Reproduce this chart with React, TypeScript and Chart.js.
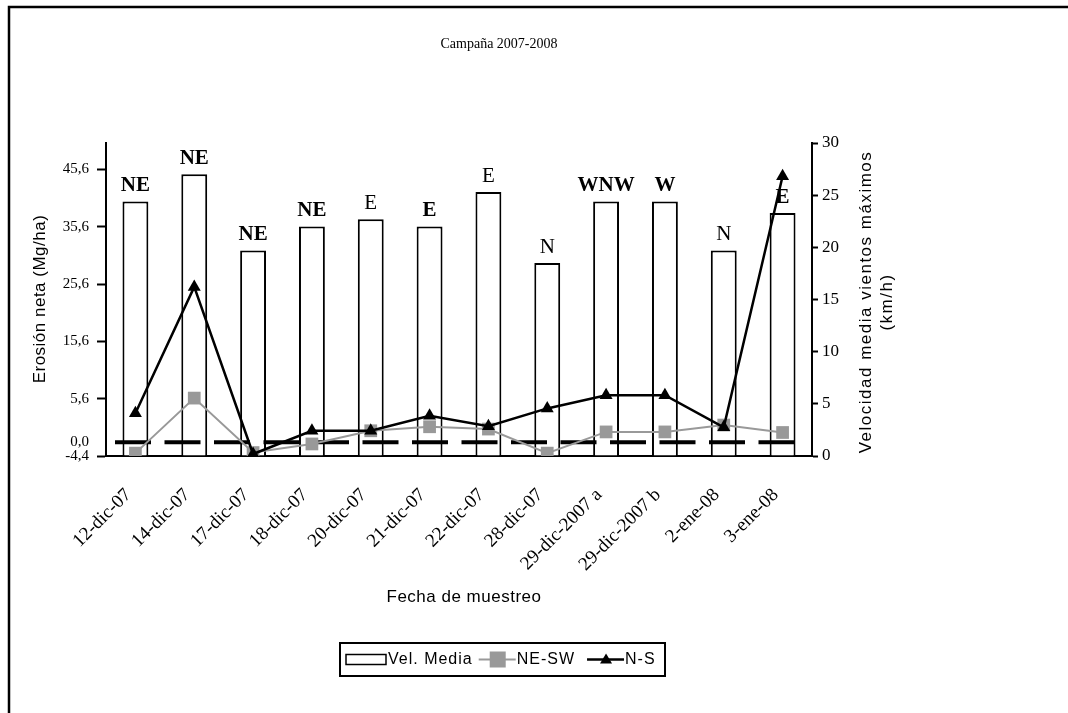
import React, { useEffect, useRef } from "react";
import { Chart, registerables } from "chart.js";

Chart.register(...registerables);

// ---------- data ----------
const categories = [
  "12-dic-07", "14-dic-07", "17-dic-07", "18-dic-07", "20-dic-07", "21-dic-07",
  "22-dic-07", "28-dic-07", "29-dic-2007 a", "29-dic-2007 b", "2-ene-08", "3-ene-08",
];
// Vel. Media (km/h, right axis)
const velMedia = [24.4, 27.0, 19.7, 22.0, 22.7, 22.0, 25.3, 18.5, 24.4, 24.4, 19.7, 23.3];
// NE-SW (Mg/ha, left axis)
const neSw = [-3.9, 5.7, -3.8, -2.3, 0.0, 0.7, 0.3, -3.9, -0.2, -0.2, 1.0, -0.3];
// N-S (Mg/ha, left axis)
const nS = [3.05, 25.1, -4.05, 0.0, 0.0, 2.6, 0.8, 3.9, 6.2, 6.2, 0.6, 44.4];
// wind direction labels above the bars
const windDir = ["NE", "NE", "NE", "NE", "E", "E", "E", "N", "WNW", "W", "N", "E"];
// left axis ticks
const leftTickValues = [-4.4, -2.0, 5.6, 15.6, 25.6, 35.6, 45.6];
const leftTickLabels = ["-4,4", "0,0", "5,6", "15,6", "25,6", "35,6", "45,6"];
const referenceLineValue = -2.0; // dashed reference line (labelled 0,0)
const leftMin = -4.4;
const leftMax = 50.2;
const rightMin = 0;
const rightMax = 30;
const rightStep = 5;

// ---------- styles ----------
const windDirBold = [true, true, true, true, false, true, false, false, true, true, false, true];
const SERIF = '"Liberation Serif", "Times New Roman", serif';
const SANS = '"Liberation Sans", Arial, sans-serif';
const GRAY = "#999999";

const decorPlugin = {
  id: "decor",
  afterDatasetDraw(chart: any, args: any) {
    if (args.index !== 0) return;
    const ctx = chart.ctx;
    const y = chart.scales.yL.getPixelForValue(referenceLineValue);
    const { left, right } = chart.chartArea;
    ctx.save();
    ctx.strokeStyle = "#000";
    ctx.lineWidth = 4;
    ctx.setLineDash([36, 13.5]);
    ctx.lineDashOffset = 40.5;
    ctx.beginPath();
    ctx.moveTo(left, y);
    ctx.lineTo(right - 17, y);
    ctx.stroke();
    ctx.restore();
  },
  afterDraw(chart: any) {
    const ctx = chart.ctx;
    ctx.save();
    // outer frame
    ctx.strokeStyle = "#000";
    ctx.lineWidth = 2.5;
    ctx.beginPath();
    ctx.moveTo(9, 2000);
    ctx.lineTo(9, 7);
    ctx.lineTo(2000, 7);
    ctx.stroke();

    ctx.fillStyle = "#000";
    // title
    ctx.font = `14px ${SERIF}`;
    ctx.textAlign = "center";
    ctx.textBaseline = "middle";
    ctx.fillText("Campaña 2007-2008", 499, 44);

    // x title
    ctx.font = `17px ${SANS}`;
    (ctx as any).letterSpacing = "0.5px";
    ctx.fillText("Fecha de muestreo", 464, 597);

    // left title
    ctx.save();
    ctx.translate(40, 299);
    ctx.rotate(-Math.PI / 2);
    ctx.fillText("Erosión neta (Mg/ha)", 0, 0);
    ctx.restore();

    // right title
    ctx.save();
    ctx.translate(866, 302);
    ctx.rotate(-Math.PI / 2);
    (ctx as any).letterSpacing = "1.5px";
    ctx.fillText("Velocidad media vientos máximos", 0, 0);
    ctx.fillText("(km/h)", 0, 21);
    ctx.restore();
    (ctx as any).letterSpacing = "0px";

    // wind direction labels
    const meta = chart.getDatasetMeta(0);
    ctx.textBaseline = "alphabetic";
    meta.data.forEach((el: any, i: number) => {
      ctx.font = `${windDirBold[i] ? "bold " : ""}21px ${SERIF}`;
      ctx.fillText(windDir[i], el.x, el.y - 10);
    });

    // legend
    const bx = 340, by = 643, bw = 325, bh = 33;
    ctx.lineWidth = 2;
    ctx.strokeStyle = "#000";
    ctx.strokeRect(bx, by, bw, bh);
    const cy = by + bh / 2;
    ctx.font = `16px ${SANS}`;
    (ctx as any).letterSpacing = "1px";
    ctx.textAlign = "left";
    ctx.textBaseline = "middle";
    let x = bx + 6;
    // bar symbol
    ctx.fillStyle = "#fff";
    ctx.fillRect(x, cy - 5, 40, 10);
    ctx.lineWidth = 1.5;
    ctx.strokeRect(x, cy - 5, 40, 10);
    x += 42;
    ctx.fillStyle = "#000";
    ctx.fillText("Vel. Media", x, cy);
    x += ctx.measureText("Vel. Media").width + 6;
    // NE-SW symbol
    ctx.strokeStyle = GRAY;
    ctx.lineWidth = 2;
    ctx.beginPath();
    ctx.moveTo(x, cy);
    ctx.lineTo(x + 37, cy);
    ctx.stroke();
    ctx.fillStyle = GRAY;
    ctx.fillRect(x + 19 - 8, cy - 8, 16, 16);
    x += 38;
    ctx.fillStyle = "#000";
    ctx.fillText("NE-SW", x, cy);
    x += ctx.measureText("NE-SW").width + 12;
    // N-S symbol
    ctx.strokeStyle = "#000";
    ctx.lineWidth = 2.5;
    ctx.beginPath();
    ctx.moveTo(x, cy);
    ctx.lineTo(x + 37, cy);
    ctx.stroke();
    ctx.beginPath();
    ctx.moveTo(x + 19, cy - 6);
    ctx.lineTo(x + 25, cy + 4);
    ctx.lineTo(x + 13, cy + 4);
    ctx.closePath();
    ctx.fill();
    x += 38;
    ctx.fillText("N-S", x, cy);

    ctx.restore();
  },
};

export default function App() {
  const ref = useRef<HTMLCanvasElement | null>(null);

  useEffect(() => {
    if (!ref.current) return;
    const chart = new Chart(ref.current, {
      type: "bar",
      data: {
        labels: categories,
        datasets: [
          {
            type: "bar",
            label: "Vel. Media",
            data: velMedia,
            yAxisID: "yR",
            backgroundColor: "#ffffff",
            borderColor: "#000000",
            borderWidth: 2,
            barPercentage: 0.44,
            categoryPercentage: 1,
            order: 3,
          } as any,
          {
            type: "line",
            label: "NE-SW",
            data: neSw,
            yAxisID: "yL",
            borderColor: GRAY,
            borderWidth: 2,
            pointStyle: "rect",
            pointRadius: 9,
            pointBackgroundColor: GRAY,
            pointBorderWidth: 0,
            tension: 0,
            order: 2,
          } as any,
          {
            type: "line",
            label: "N-S",
            data: nS,
            yAxisID: "yL",
            borderColor: "#000000",
            borderWidth: 2.5,
            pointStyle: "triangle",
            pointRadius: 7.5,
            pointBackgroundColor: "#000000",
            pointBorderWidth: 0,
            tension: 0,
            order: 1,
          } as any,
        ],
      },
      options: {
        responsive: false,
        animation: false,
        devicePixelRatio: 1,
        layout: { padding: { left: 0, right: 196, top: 143, bottom: 57 } },
        plugins: {
          legend: { display: false },
          tooltip: { enabled: false },
          title: { display: false },
        },
        scales: {
          x: {
            type: "category",
            offset: true,
            grid: { display: false },
            border: { display: true, color: "#000", width: 2 },
            ticks: {
              maxRotation: 45,
              minRotation: 45,
              autoSkip: false,
              color: "#000",
              padding: 20,
              labelOffset: -7,
              font: { family: SERIF, size: 19 },
            },
            afterFit: (s: any) => {
              s.height = 200;
            },
          },
          yL: {
            type: "linear",
            position: "left",
            min: leftMin,
            max: leftMax,
            afterBuildTicks: (s: any) => {
              s.ticks = leftTickValues.map((v) => ({ value: v }));
            },
            ticks: {
              autoSkip: false,
              color: "#000",
              padding: 8,
              font: { family: SERIF, size: 15 },
              callback: (_v: any, i: number) => leftTickLabels[i],
            },
            grid: {
              display: true,
              drawOnChartArea: false,
              drawTicks: true,
              tickLength: 9,
              tickWidth: 2,
              tickColor: (c: any) =>
                c.tick && c.tick.value === referenceLineValue ? "rgba(0,0,0,0)" : "#000",
            },
            border: { display: true, color: "#000", width: 2 },
            afterFit: (s: any) => {
              s.width = 106;
            },
          },
          yR: {
            type: "linear",
            position: "right",
            min: rightMin,
            max: rightMax,
            ticks: {
              stepSize: rightStep,
              color: "#000",
              padding: 4,
              font: { family: SERIF, size: 17 },
            },
            grid: {
              display: true,
              drawOnChartArea: false,
              drawTicks: true,
              tickLength: 6,
              tickWidth: 2,
              tickColor: "#000",
            },
            border: { display: true, color: "#000", width: 2 },
            afterFit: (s: any) => {
              s.width = 60;
            },
          },
        },
      } as any,
      plugins: [decorPlugin as any],
    });
    return () => chart.destroy();
  }, []);

  return (
    <div
      style={{
        position: "fixed",
        left: 0,
        top: 0,
        width: 1068,
        height: 713,
        background: "#fff",
      }}
    >
      <canvas ref={ref} width={1068} height={713} style={{ display: "block" }} />
    </div>
  );
}
